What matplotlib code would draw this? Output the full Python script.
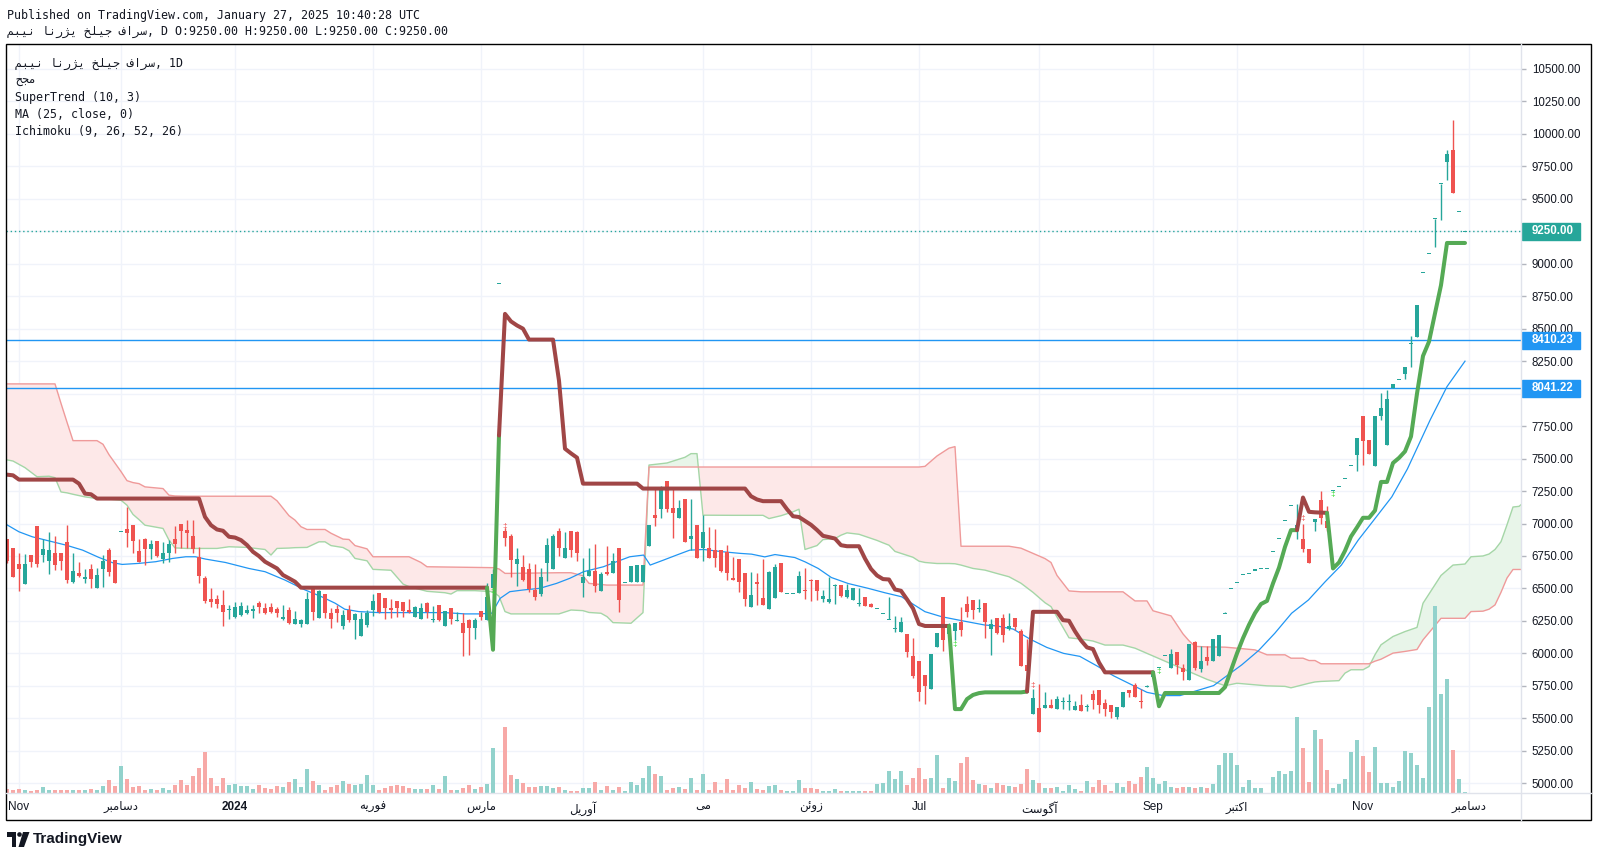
import numpy as np
import matplotlib
matplotlib.use("Agg")
import matplotlib.pyplot as plt
import matplotlib.transforms as mtransforms
from matplotlib.patches import Rectangle, Ellipse, Polygon

# ---------------- data (daily bars, index 0..243) ----------------
opens = [
    6880, 6811, 6688, 6534, 6757, 6980, 6759, 6713, 6770, 6770,
    6859, 6552, 6616, 6570, 6647, 6506, 6652, 6795, 6718, 6941,
    6956, 6987, 6788, 6880, 6805, 6864, 6729, 6770, 6880, 7000,
    6949, 6903, 6744, 6578, 6419, 6419, 6373, 6340, 6283, 6296,
    6314, 6324, 6386, 6347, 6355, 6340, 6263, 6334, 6224, 6224,
    6224, 6501, 6275, 6457, 6314, 6342, 6214, 6334, 6258, 6137,
    6219, 6334, 6462, 6424, 6352, 6403, 6393, 6334, 6283, 6265,
    6386, 6263, 6373, 6214, 6347, 6252, 6232, 6258, 6194, 6327,
    6258, 6506, 8850, 6941, 6903, 6688, 6665, 6649, 6488, 6457,
    6698, 6649, 6941, 6731, 6941, 6936, 6544, 6598, 6636, 6483,
    6629, 6616, 6808, 6547, 6547, 6547, 6552, 6828, 7064, 7110,
    7325, 7120, 7044, 7187, 6877, 6987, 6808, 6808, 6795, 6795,
    6782, 6578, 6725, 6620, 6354, 6551, 6428, 6341, 6428, 6697,
    6462, 6462, 6462, 6487, 6564, 6564, 6418, 6398, 6520, 6526,
    6436, 6410, 6385, 6431, 6380, 6346, 6308, 6264, 6185, 6162,
    6147, 5980, 5941, 5833, 5726, 6052, 6436, 6147, 6175, 6244,
    6380, 6410, 6346, 6387, 6187, 6269, 6276, 6187, 6269, 6174,
    5910, 5534, 5580, 5580, 5603, 5573, 5629, 5631, 5567, 5606,
    5590, 5688, 5718, 5619, 5603, 5508, 5585, 5718, 5757, 5636,
    5747, 5820, 5892, 5982, 5887, 6008, 5887, 5798, 6084, 5880,
    5974, 5938, 5982, 6309, 6501, 6547, 6608, 6616, 6642, 6654,
    6657, 6788, 6885, 7023, 7138, 6944, 6880, 6803, 7013, 7179,
    7018, 7256, 7287, 7346, 7443, 7530, 7824, 7640, 7445, 7829,
    7601, 8042, 8111, 8150, 8387, 8438, 8932, 9078, 9347, 9616,
    9782, 9872, 9403, 9250]
highs = [
    6880, 6811, 6770, 6764, 6757, 6980, 6880, 6933, 6903, 6770,
    6987, 6770, 6703, 6647, 6688, 6654, 6757, 6808, 6718, 6941,
    7128, 6987, 6880, 6890, 6872, 6864, 6857, 6872, 6980, 7000,
    7026, 7026, 6821, 6596, 6506, 6450, 6488, 6373, 6398, 6398,
    6373, 6373, 6401, 6386, 6386, 6360, 6373, 6360, 6327, 6265,
    6475, 6514, 6488, 6457, 6347, 6373, 6334, 6373, 6309, 6316,
    6334, 6457, 6462, 6424, 6416, 6403, 6398, 6416, 6368, 6386,
    6393, 6368, 6373, 6327, 6347, 6316, 6309, 6263, 6270, 6327,
    6540, 6650, 8850, 6969, 6923, 6808, 6757, 6693, 6688, 6654,
    6885, 6923, 6962, 6936, 6941, 6941, 6731, 6808, 6841, 6629,
    6823, 6775, 6808, 6547, 6675, 6680, 6680, 6987, 7264, 7287,
    7325, 7269, 7179, 7187, 7187, 6987, 7064, 6974, 6956, 6795,
    6834, 6744, 6725, 6620, 6628, 6620, 6723, 6636, 6687, 6697,
    6462, 6462, 6633, 6654, 6569, 6564, 6487, 6585, 6538, 6526,
    6538, 6500, 6500, 6431, 6385, 6346, 6308, 6436, 6290, 6282,
    6147, 6116, 5941, 5833, 5995, 6159, 6436, 6231, 6236, 6359,
    6441, 6410, 6420, 6387, 6264, 6269, 6302, 6310, 6269, 6187,
    6110, 5726, 5764, 5700, 5649, 5675, 5662, 5688, 5636, 5688,
    5610, 5718, 5718, 5649, 5603, 5590, 5706, 5718, 5775, 5726,
    5760, 5860, 5892, 5982, 6033, 6008, 5918, 6072, 6097, 6054,
    6054, 6110, 6141, 6315, 6501, 6547, 6608, 6616, 6642, 6654,
    6657, 6788, 6885, 7023, 7138, 7149, 7000, 6803, 7038, 7248,
    7138, 7256, 7287, 7346, 7443, 7658, 7824, 7640, 7824, 8008,
    8029, 8075, 8111, 8203, 8443, 8682, 8932, 9078, 9347, 9616,
    9872, 10110, 9403, 9250]
lows = [
    6693, 6590, 6483, 6534, 6667, 6667, 6705, 6613, 6642, 6642,
    6544, 6544, 6585, 6544, 6506, 6506, 6514, 6596, 6539, 6941,
    6821, 6775, 6706, 6677, 6726, 6744, 6698, 6706, 6770, 6808,
    6808, 6770, 6539, 6391, 6355, 6347, 6214, 6262, 6275, 6290,
    6301, 6275, 6314, 6301, 6309, 6278, 6258, 6227, 6224, 6206,
    6224, 6258, 6270, 6270, 6199, 6245, 6186, 6245, 6112, 6135,
    6206, 6291, 6314, 6265, 6270, 6278, 6283, 6309, 6278, 6265,
    6270, 6245, 6252, 6214, 6227, 6252, 5976, 5986, 6112, 6258,
    6258, 6500, 8850, 6826, 6590, 6519, 6557, 6475, 6411, 6445,
    6557, 6647, 6749, 6731, 6744, 6713, 6437, 6598, 6475, 6483,
    6603, 6616, 6322, 6547, 6547, 6547, 6552, 6828, 6980, 7044,
    7090, 6890, 7044, 6859, 6795, 6731, 6713, 6731, 6662, 6629,
    6565, 6565, 6474, 6364, 6354, 6372, 6372, 6341, 6428, 6474,
    6462, 6462, 6462, 6415, 6405, 6410, 6398, 6390, 6380, 6431,
    6423, 6410, 6364, 6364, 6354, 6346, 6308, 6264, 6167, 6162,
    5970, 5808, 5635, 5613, 5726, 6052, 6021, 6103, 6103, 6134,
    6282, 6262, 6320, 6118, 5987, 6146, 6090, 6182, 6182, 5905,
    5700, 5534, 5398, 5580, 5580, 5573, 5573, 5567, 5567, 5560,
    5560, 5575, 5539, 5516, 5501, 5496, 5585, 5662, 5662, 5580,
    5740, 5820, 5892, 5982, 5887, 5841, 5798, 5798, 5872, 5854,
    5910, 5938, 5982, 6309, 6501, 6547, 6608, 6616, 6642, 6654,
    6657, 6788, 6885, 7023, 7138, 6877, 6782, 6698, 6944, 7000,
    6944, 7256, 7287, 7346, 7443, 7402, 7453, 7537, 7445, 7798,
    7601, 8042, 8111, 8111, 8206, 8438, 8932, 9078, 9130, 9334,
    9642, 9544, 9403, 9250]
closes = [
    6713, 6590, 6652, 6688, 6705, 6688, 6803, 6795, 6680, 6713,
    6565, 6634, 6598, 6590, 6570, 6603, 6711, 6629, 6544, 6941,
    6928, 6867, 6706, 6805, 6846, 6752, 6770, 6839, 6841, 6944,
    6928, 6803, 6598, 6406, 6398, 6380, 6322, 6340, 6355, 6368,
    6334, 6342, 6355, 6309, 6322, 6314, 6283, 6237, 6263, 6258,
    6416, 6317, 6480, 6309, 6263, 6309, 6296, 6258, 6304, 6265,
    6314, 6403, 6322, 6352, 6334, 6352, 6327, 6316, 6355, 6347,
    6322, 6263, 6258, 6327, 6265, 6252, 6155, 6199, 6258, 6283,
    6437, 6608, 8850, 6892, 6719, 6726, 6565, 6493, 6437, 6585,
    6834, 6903, 6813, 6813, 6795, 6775, 6590, 6636, 6521, 6611,
    6611, 6713, 6411, 6547, 6675, 6680, 6680, 6987, 7044, 7264,
    7110, 7082, 7120, 6859, 6903, 6731, 6931, 6731, 6731, 6636,
    6621, 6565, 6551, 6418, 6449, 6531, 6372, 6628, 6666, 6474,
    6462, 6462, 6595, 6477, 6556, 6482, 6441, 6418, 6520, 6441,
    6487, 6500, 6385, 6364, 6359, 6346, 6308, 6264, 6192, 6239,
    6014, 5829, 5706, 5752, 5995, 6159, 6103, 6213, 6236, 6180,
    6316, 6334, 6346, 6238, 6230, 6156, 6143, 6207, 6200, 5905,
    5867, 5654, 5398, 5603, 5580, 5649, 5629, 5631, 5598, 5560,
    5590, 5642, 5606, 5573, 5552, 5590, 5706, 5693, 5662, 5623,
    5747, 5860, 5892, 5982, 5995, 5913, 5859, 6072, 5887, 5938,
    5938, 6110, 6141, 6309, 6501, 6547, 6608, 6616, 6642, 6654,
    6657, 6788, 6885, 7023, 7138, 6987, 6803, 6698, 7038, 7044,
    6967, 7256, 7287, 7346, 7443, 7658, 7632, 7537, 7824, 7888,
    7960, 8075, 8111, 8203, 8387, 8682, 8932, 9078, 9347, 9616,
    9846, 9544, 9403, 9250]

# volume, in chart pixels above the time axis
volumes = [
    4, 3, 4, 3, 2, 3, 6, 3, 3, 3,
    3, 3, 3, 3, 4, 3, 7, 13, 7, 27,
    14, 6, 7, 3, 4, 3, 5, 3, 8, 13,
    8, 17, 25, 41, 15, 7, 15, 8, 9, 7,
    7, 4, 8, 5, 4, 7, 6, 11, 14, 6,
    24, 12, 8, 3, 6, 8, 12, 9, 8, 9,
    18, 8, 3, 5, 7, 8, 7, 5, 4, 4,
    4, 8, 4, 17, 3, 3, 5, 8, 4, 6,
    9, 45, 0, 66, 18, 14, 10, 6, 6, 7,
    7, 5, 6, 3, 2, 2, 5, 5, 11, 3,
    7, 3, 6, 2, 11, 8, 15, 27, 19, 17,
    3, 5, 6, 4, 15, 3, 19, 3, 11, 3,
    14, 3, 8, 5, 11, 4, 3, 7, 8, 3,
    2, 2, 13, 5, 5, 4, 2, 2, 4, 2,
    2, 2, 2, 2, 2, 9, 10, 22, 14, 22,
    8, 15, 25, 14, 15, 38, 5, 15, 12, 30,
    36, 13, 9, 8, 5, 10, 8, 7, 6, 9,
    24, 13, 10, 5, 5, 6, 2, 8, 4, 2,
    12, 6, 13, 8, 2, 10, 6, 12, 9, 16,
    26, 15, 9, 12, 6, 5, 6, 6, 5, 6,
    5, 9, 28, 40, 40, 28, 6, 13, 5, 5,
    0, 16, 22, 19, 22, 76, 45, 11, 63, 54,
    23, 5, 9, 14, 41, 53, 37, 21, 46, 10,
    10, 6, 12, 42, 40, 28, 15, 86, 187, 99,
    114, 43, 14, 1]

# SuperTrend (10, 3)
supertrend = (
    [7376, 7371] + [7338] * 10 + [7307, 7230, 7225] + [7192] * 18 +
    [7051, 6987, 6954, 6944, 6898, 6892, 6872, 6834, 6782, 6749,
     6706, 6680, 6654, 6603, 6578, 6552] + [6506] * 32 +
    [6028, 7678, 8614, 8556, 8525, 8500, 8416, 8416, 8416, 8416, 8416,
     8100, 7576, 7540, 7507] + [7307] * 10 + [7269] * 18 +
    [7210, 7185, 7172, 7172, 7172, 7172, 7110, 7056, 7050, 7020,
     6990, 6950, 6905, 6895, 6884, 6833, 6825, 6825, 6825, 6730,
     6650, 6600, 6572, 6569, 6492, 6482, 6416, 6346, 6226] + [6211] * 5 +
    [5571, 5571, 5648, 5680, 5694] + [5700] * 7 +
    [5706, 6320, 6320, 6320, 6320, 6320, 6256, 6251, 6170, 6100,
     6046, 6033, 5930] + [5854] * 9 +
    [5593] + [5695] * 10 +
    [5740, 5870, 6000, 6117, 6220, 6310, 6380, 6404, 6539, 6660,
     6820, 6949, 6949, 7200, 7090, 7086, 7084, 7082, 6654, 6700,
     6790, 6900, 6970, 7044, 7044, 7100, 7320, 7320, 7466, 7505,
     7555, 7670, 8000, 8290, 8400, 8618, 8835, 9160, 9160, 9160, 9160])
st_flips = [81, 83, 158, 171, 192, 216, 221]     # trend changes, first leg is down
st_mark_y = [6475, 6975, 6065, 5750, 5860, 7035, 7225]

# MA (25, close)
ma_x = [-0.2, 2, 4.2, 7.6, 9.8, 12.6, 15.3, 17.6, 19.2, 22, 24.8, 27.6, 29.8, 31.4,
        33.1, 36.4, 40.3, 43, 46.3, 49.7, 52.4, 54.7, 56.3, 58.6, 61.9, 73, 76.3,
        78.6, 80.8, 82.2, 83.8, 86, 88.8, 91.6, 93.8, 96.1, 99.4, 101.6, 103.8,
        106.1, 107.2, 109.4, 111.6, 113.8, 116.1, 119.4, 122.2, 124.1, 126.3, 128,
        131.3, 133, 135.2, 137.4, 140.2, 143.6, 146.3, 149.1, 150.8, 153, 155.8,
        159.1, 163, 164.9, 167.7, 170.5, 173.3, 176.1, 178.8, 181.6, 184.4, 187.2,
        190, 192.7, 195.5, 198.3, 201.1, 203, 205.8, 208.6, 211.3, 214.1, 216.9,
        219.7, 222.4, 225.2, 228, 230.8, 233.4, 237.2, 240, 243]
ma_vals = [6995, 6936, 6898, 6859, 6834, 6795, 6739, 6698, 6685, 6693, 6706, 6731,
           6744, 6744, 6726, 6700, 6654, 6629, 6565, 6488, 6437, 6386, 6340, 6322,
           6314, 6314, 6304, 6304, 6309, 6424, 6475, 6488, 6501, 6539, 6578, 6629,
           6667, 6706, 6744, 6757, 6680, 6718, 6757, 6795, 6800, 6782, 6770, 6764,
           6743, 6761, 6738, 6705, 6654, 6584, 6538, 6500, 6467, 6436, 6385, 6321,
           6282, 6252, 6218, 6212, 6187, 6110, 6046, 6000, 5977, 5905, 5828, 5764,
           5700, 5675, 5675, 5713, 5752, 5817, 5912, 6022, 6155, 6309, 6411, 6552,
           6680, 6872, 7038, 7205, 7420, 7798, 8054, 8250]

# Ichimoku (9, 26, 52, 26) cloud, leading spans A and B
cloud_x = [-1, 1, 3, 5, 7, 8, 9, 10, 11, 13, 15, 16, 17, 19, 20, 21, 22, 23, 26, 27,
           28, 30, 35, 37, 40, 43, 44, 45, 47, 48, 49, 50, 52, 53, 54, 56, 57, 58, 60,
           61, 64, 66, 67, 69, 70, 73, 74, 75, 78, 81, 82, 83, 84, 92, 94, 96, 97, 99,
           100, 101, 104, 106, 107, 110, 113, 114, 115, 116, 121, 126, 127, 129, 131,
           132, 133, 135, 136, 138, 139, 140, 142, 145, 146, 147, 148, 151, 152, 153,
           155, 157, 158, 159, 161, 163, 165, 167, 169, 171, 173, 174, 175, 177, 179,
           181, 183, 186, 188, 190, 191, 192, 194, 196, 197, 198, 200, 203, 205, 208,
           210, 213, 214, 216, 217, 218, 219, 222, 223, 224, 226, 227, 228, 229, 231,
           233, 235, 236, 239, 241, 243, 244, 246, 247, 248, 249, 250, 251, 252, 253]
span_a = [7499, 7481, 7430, 7360, 7364, 7353, 7243, 7236, 7225, 7205, 7192, 7192, 7188,
          7179, 7141, 7070, 7030, 6987, 6962, 6872, 6812, 6808, 6808, 6821, 6816, 6800,
          6757, 6808, 6811, 6814, 6815, 6816, 6859, 6859, 6830, 6815, 6790, 6731, 6713,
          6647, 6640, 6534, 6514, 6490, 6478, 6467, 6457, 6483, 6483, 6475, 6440, 6322,
          6304, 6304, 6334, 6329, 6315, 6309, 6283, 6237, 6232, 6314, 7450, 7466, 7510,
          7538, 7538, 7064, 7063, 7063, 7038, 7060, 7090, 7110, 6800, 6830, 6876, 6884,
          6910, 6928, 6917, 6870, 6851, 6833, 6785, 6740, 6710, 6700, 6692, 6692, 6690,
          6680, 6654, 6641, 6615, 6590, 6540, 6470, 6390, 6360, 6280, 6120, 6110, 6095,
          6064, 6064, 6040, 6000, 5980, 5960, 5920, 5880, 5860, 5840, 5800, 5751, 5770,
          5758, 5750, 5746, 5735, 5758, 5770, 5780, 5784, 5790, 5848, 5874, 5874, 5899,
          5990, 6066, 6130, 6168, 6200, 6386, 6600, 6680, 6688, 6744, 6750, 6765, 6800,
          6860, 6990, 7127, 7132, 7170]
span_b = [8075, 8075, 8075, 8075, 8075, 8075, 7925, 7780, 7638, 7638, 7638, 7610, 7530,
          7400, 7330, 7315, 7307, 7282, 7269, 7218, 7212, 7210, 7210, 7210, 7210, 7210,
          7210, 7175, 7060, 7026, 6975, 6954, 6954, 6954, 6925, 6880, 6877, 6830, 6805,
          6744, 6744, 6744, 6744, 6700, 6667, 6665, 6664, 6663, 6662, 6660, 6650, 6616,
          6616, 6621, 6621, 6598, 6539, 6530, 6526, 6526, 6526, 6526, 7435, 7435, 7435,
          7435, 7435, 7435, 7435, 7435, 7435, 7435, 7435, 7435, 7435, 7435, 7435, 7435,
          7435, 7435, 7435, 7435, 7435, 7435, 7435, 7435, 7435, 7440, 7520, 7580, 7592,
          6825, 6825, 6825, 6825, 6825, 6810, 6770, 6730, 6700, 6600, 6481, 6474, 6474,
          6474, 6474, 6404, 6404, 6328, 6315, 6289, 6150, 6097, 6054, 6050, 6048, 6040,
          6027, 5989, 5989, 5963, 5963, 5945, 5945, 5920, 5920, 5920, 5920, 5920, 5920,
          5940, 5955, 6002, 6015, 6030, 6104, 6270, 6270, 6270, 6322, 6325, 6340, 6373,
          6470, 6580, 6646, 6646, 6646]

level_a, level_b, last_price = 8410.23, 8041.22, 9250.00

month_pos = [2, 19, 38, 61, 79, 96, 116, 134, 152, 172, 191, 205, 226, 243.7]
month_labels = [
    "Nov",
    "\uFEAE\uFE92\uFEE3\uFE8E\uFEB3\uFEA9",          # dec
    "2024",
    "\uFEEA\uFBFE\uFEAD\uFEEE\uFED3",                # feb
    "\uFEB1\uFEAD\uFE8E\uFEE3",                      # mar
    "\uFEDE\uFBFE\uFEAD\uFEED\uFE81",                # apr
    "\uFBFD\uFEE3",                                  # may
    "\uFEE6\uFE8B\uFEED\uFEAF",                      # jun
    "Jul",
    "\uFE96\uFEB3\uFEEE\uFB94\uFE81",                # aug
    "Sep",
    "\uFEAE\uFE92\uFE98\uFB90\uFE8D",                # oct
    "Nov",
    "\uFEAE\uFE92\uFEE3\uFE8E\uFEB3\uFEA9",          # dec
]
# the snapshot prints the symbol name and the volume title with reversed letters
symbol = ("\uFEE2\uFE92\uFBFF\uFEE7 \uFE8E\uFEE7\uFEAD\uFB8B\uFBFE "
          "\uFEA6\uFEE0\uFBFF\uFE9F \uFED1\uFE8D\uFEAE\uFEB3")
vol_word = "\uFEA2\uFEA0\uFEE3"

# ---------------- style ----------------
UP, DOWN = "#26a69a", "#ef5350"
VOL_UP, VOL_DOWN = "#92d2cc", "#f7a9a7"
ST_UP, ST_DOWN = "#55aa55", "#a04646"
BLUE = "#2196f3"
GRID = "#f0f3fa"
TXT = "#131722"
MONO = ["DejaVu Sans Mono", "DejaVu Sans"]
plt.rcParams["font.family"] = ["Liberation Sans", "DejaVu Sans"]

W, H = 1598, 858
L, R, T, B = 6, 1521, 44, 793          # chart pane in pixels
fig = plt.figure(figsize=(W / 100, H / 100), dpi=100, facecolor="white")


def fx(x):
    return x / W


def fy(y):
    return 1 - y / H


pane = [fx(L), fy(B), (R - L) / W, (B - T) / H]
ax = fig.add_axes(pane)
axv = fig.add_axes(pane, sharex=ax)
axv.patch.set_visible(False)
axv.set_axis_off()

n = len(closes)
x = np.arange(n)
o, h, l, c = (np.array(v, dtype=float) for v in (opens, highs, lows, closes))

ax.set_xlim(-1 / 6, -1 / 6 + (R - L) / 6)
ax.set_ylim(4925, 10692)
axv.set_ylim(0, B - T)

# grid
levels = np.arange(5000, 10501, 250)
for v in levels:
    ax.axhline(v, color=GRID, lw=1, zorder=0.5)
for p in month_pos:
    ax.axvline(p, color=GRID, lw=1, zorder=0.5)

# ichimoku cloud
cx, sa, sb = np.array(cloud_x), np.array(span_a), np.array(span_b)
ax.fill_between(cx, sa, sb, where=sa >= sb, interpolate=True, color="#e8f5e9", lw=0, zorder=1)
ax.fill_between(cx, sa, sb, where=sa < sb, interpolate=True, color="#fde8e8", lw=0, zorder=1)
ax.plot(cx, sa, color="#a5d6a7", lw=1, zorder=1.2)
ax.plot(cx, sb, color="#ef9a9a", lw=1, zorder=1.2)

# horizontal levels
ax.axhline(level_a, color=BLUE, lw=1, zorder=1.5)
ax.axhline(level_b, color=BLUE, lw=1, zorder=1.5)
ax.axhline(last_price, color=UP, lw=1, ls=(0, (1, 2)), zorder=1.5)

# moving average
ax.plot(ma_x, ma_vals, color=BLUE, lw=0.9, zorder=2.5)

# candles
up = c >= o
col = np.where(up, UP, DOWN)
ax.vlines(x, l, h, colors=col, lw=1, zorder=3)
body = np.abs(c - o)
body_h = np.maximum(body, 8)
ax.bar(x, body_h, width=0.72, bottom=np.minimum(o, c) - (body_h - body) / 2,
       color=col, linewidth=0, zorder=3.1)

# supertrend
st = np.array(supertrend, dtype=float)
dirs = np.full(n, -1)
for f in st_flips:
    dirs[f:] *= -1
i = 1
while i < n:
    j = i
    while j + 1 < n and dirs[j + 1] == dirs[i]:
        j += 1
    ax.plot(x[i - 1:j + 1], st[i - 1:j + 1], color=ST_UP if dirs[i] > 0 else ST_DOWN,
            lw=2.9, solid_capstyle="round", solid_joinstyle="round", zorder=4)
    i = j + 1
for f, yv in zip(st_flips, st_mark_y):
    ax.text(f, yv, "\u2021", color="#33dd33" if dirs[f] > 0 else DOWN, fontsize=6,
            ha="center", va="center", zorder=4.5)

# volume
axv.bar(x, volumes, width=0.8, color=np.where(up, VOL_UP, VOL_DOWN), linewidth=0)

# axes cosmetics
for s in ax.spines.values():
    s.set_visible(False)
ax.yaxis.tick_right()
ax.set_yticks(levels)
# labels hidden behind the price badges are left blank
covered = (8000, 9250)
ax.set_yticklabels(["" if v in covered else f"{v:.2f}" for v in levels])
ax.tick_params(axis="y", length=3.5, width=1, color="#b2b5be", pad=4.3,
               labelsize=8.3, labelcolor=TXT)
ax.set_xticks(month_pos)
ax.set_xticklabels(month_labels)
ax.tick_params(axis="x", length=0, pad=6, labelsize=8.5, labelcolor=TXT)
ax.get_xticklabels()[2].set_fontweight("bold")

# price badges
trans = mtransforms.blended_transform_factory(ax.transAxes, ax.transData)
pw = R - L
for val, colr in ((last_price, UP), (level_a, BLUE), (level_b, BLUE)):
    ax.add_patch(Rectangle((1 + 1 / pw, val - 66), 58 / pw, 132, transform=trans,
                           color=colr, clip_on=False, zorder=10))
    ax.text(1 + 11 / pw, val, f"{val:.2f}", transform=trans, color="white",
            fontweight="bold", fontsize=8.3, va="center", ha="left", clip_on=False, zorder=11)

# frame and separators
fig.add_artist(Rectangle((fx(6), fy(820)), (1591 - 6) / W, (820 - 44) / H, fill=False,
                         ec="black", lw=1, transform=fig.transFigure))
fig.add_artist(plt.Line2D([fx(R), fx(R)], [fy(44), fy(820)], color="#e0e3eb", lw=1,
                          transform=fig.transFigure))
fig.add_artist(plt.Line2D([fx(6), fx(1591)], [fy(B), fy(B)], color="#e0e3eb", lw=1,
                          transform=fig.transFigure))

# header and legend
fig.text(fx(7), fy(15), "Published on TradingView.com, January 27, 2025 10:40:28 UTC",
         family=MONO, fontsize=8.4, color=TXT, va="center")
fig.text(fx(7), fy(31), symbol + ", D O:9250.00 H:9250.00 L:9250.00 C:9250.00",
         family=MONO, fontsize=8.4, color=TXT, va="center")
legend = [symbol + ", 1D", vol_word, "SuperTrend (10, 3)", "MA (25, close, 0)",
          "Ichimoku (9, 26, 52, 26)"]
for k, line in enumerate(legend):
    fig.text(fx(15), fy(63.5 + 17 * k), line, family=MONO, fontsize=8.4, color=TXT,
             va="center")

# TradingView logo
logo = dict(transform=fig.transFigure, color=TXT, lw=0)
fig.add_artist(Rectangle((fx(7), fy(837)), 9 / W, 5 / H, **logo))
fig.add_artist(Rectangle((fx(11.5), fy(847)), 4.5 / W, 15 / H, **logo))
fig.add_artist(Ellipse((fx(19.5), fy(834.5)), 4.6 / W, 4.6 / H, **logo))
fig.add_artist(Polygon([(fx(23), fy(832)), (fx(29.5), fy(832)), (fx(24), fy(847)),
                        (fx(18.5), fy(847))], closed=True, **logo))
fig.text(fx(33), fy(839.5), "TradingView", fontsize=11, fontweight="bold", color=TXT,
         va="center")

fig.savefig("out.png", dpi=100, facecolor="white")
